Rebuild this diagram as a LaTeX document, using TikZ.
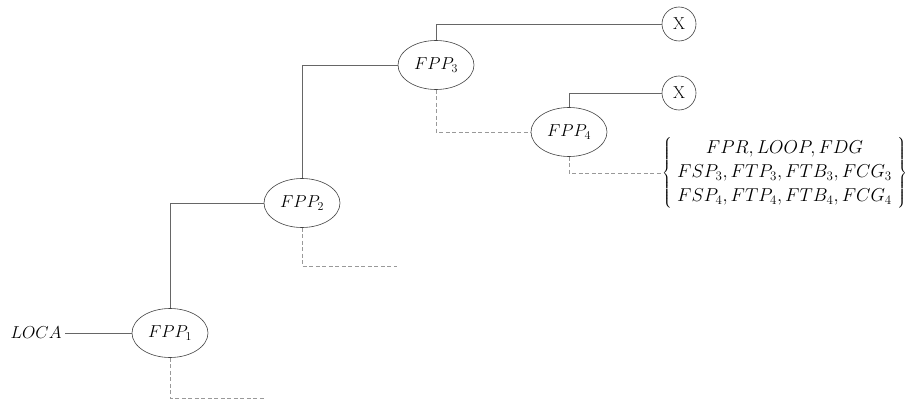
\documentclass[tikz,border=0pt]{standalone}
\usetikzlibrary{shapes.geometric}
\begin{document}
\begin{tikzpicture}[x=1pt,y=-1pt,
  every node/.style={font=\fontsize{17.28}{21}\selectfont},
  fpp/.style={ellipse,draw=black!75,line width=0.6pt,minimum width=76pt,minimum height=49pt,inner sep=0pt},
  endx/.style={circle,draw=black!75,line width=0.6pt,minimum size=34pt,inner sep=0pt},
  link/.style={draw=black!60,line width=0.7pt},
  fail/.style={draw=black!40,line width=0.7pt,dash pattern=on 4pt off 2.5pt}]
\useasboundingbox (0,0) rectangle (906,404);

\node (loca) at (36,333) {$LOCA$};
\node[fpp] (f1) at (170,333) {$FPP_1$};
\node[fpp] (f2) at (302,203) {$FPP_2$};
\node[fpp] (f3) at (436,65) {$FPP_3$};
\node[fpp] (f4) at (569,132) {$FPP_4$};
\node[endx] (x1) at (679,24) {X};
\node[endx] (x2) at (679,93) {X};
\node[inner sep=0pt,anchor=west,scale=1.08,font=\fontsize{17.28}{22}\selectfont] (set) at (662,173)
  {$\left\{\begin{array}{c}
     FPR, LOOP, FDG\\
     FSP_3, FTP_3, FTB_3, FCG_3\\
     FSP_4, FTP_4, FTB_4, FCG_4
   \end{array}\right\}$};
\coordinate (e1) at (265,398);
\coordinate (e2) at (397,266);

% success branches
\draw[link] (loca) -- (f1);
\draw[link] (f1.north) |- (f2.west);
\draw[link] (f2.north) |- (f3.west);
\draw[link] (f3.north) |- (x1.west);
\draw[link] (f4.north) |- (x2.west);

% failure branches
\draw[fail] (f1.south) |- (e1);
\draw[fail] (f2.south) |- (e2);
\draw[fail] (f3.south) |- (f4.west);
\draw[fail] (f4.south) |- (set.west);
\end{tikzpicture}
\end{document}
